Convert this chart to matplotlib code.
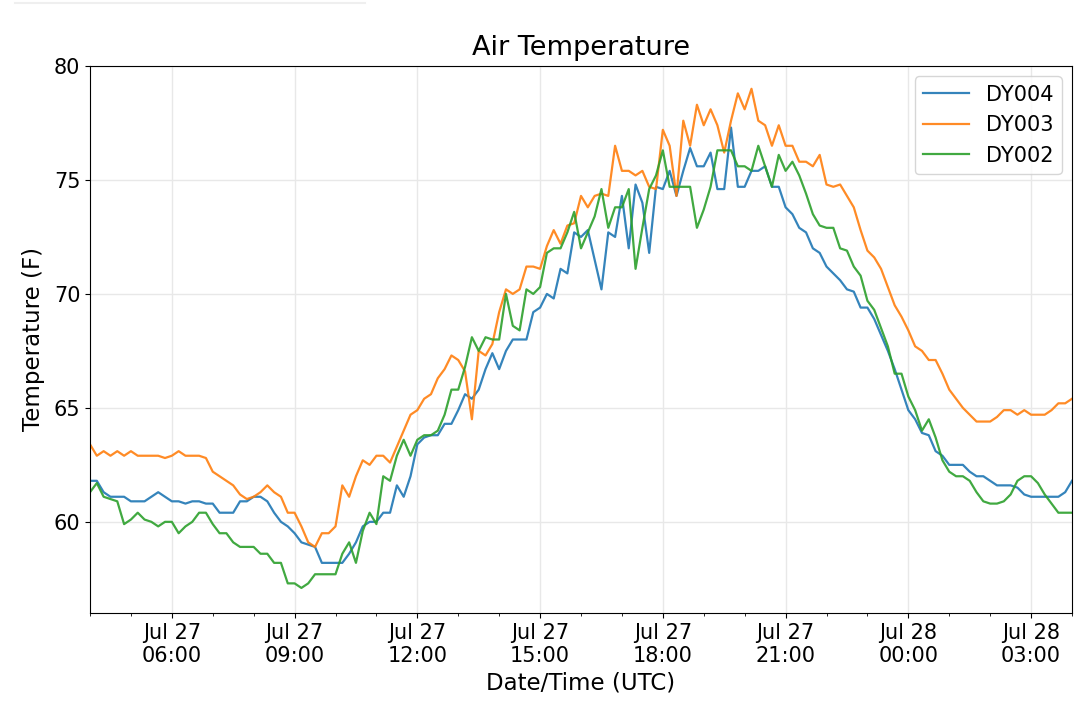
import pandas as pd
import matplotlib
matplotlib.use('Agg')
import matplotlib.pyplot as plt
import matplotlib.dates as mdates
from matplotlib.lines import Line2D

# ===== 参数 =====
FONT_TICK = 15
FONT_LABEL = 16.5
FONT_TITLE = 19.5
FONT_LEGEND = 15
LINE_W = 1.6

# 10 分钟一个点, Jul 27 04:00 -> Jul 28 04:00
times = pd.date_range('2019-07-27 04:00', periods=145, freq='10min')

dy004 = [
    61.8, 61.8, 61.3, 61.1, 61.1, 61.1, 60.9, 60.9, 60.9, 61.1, 61.3, 61.1,
    60.9, 60.9, 60.8, 60.9, 60.9, 60.8, 60.8, 60.4, 60.4, 60.4, 60.9, 60.9,
    61.1, 61.1, 60.9, 60.4, 60.0, 59.8, 59.5, 59.1, 59.0, 58.9, 58.2, 58.2,
    58.2, 58.2, 58.6, 59.1, 59.8, 60.0, 60.0, 60.4, 60.4, 61.6, 61.1, 62.0,
    63.4, 63.7, 63.8, 63.8, 64.3, 64.3, 64.9, 65.6, 65.4, 65.8, 66.7, 67.4,
    66.7, 67.5, 68.0, 68.0, 68.0, 69.2, 69.4, 70.0, 69.8, 71.1, 70.9, 72.7,
    72.5, 72.8, 71.5, 70.2, 72.7, 72.5, 74.3, 72.0, 74.8, 74.0, 71.8, 74.7,
    74.6, 75.4, 74.3, 75.4, 76.4, 75.6, 75.6, 76.2, 74.6, 74.6, 77.3, 74.7,
    74.7, 75.4, 75.4, 75.6, 74.7, 74.7, 73.8, 73.5, 72.9, 72.7, 72.0, 71.8,
    71.2, 70.9, 70.6, 70.2, 70.1, 69.4, 69.4, 68.9, 68.2, 67.5, 66.7, 65.8,
    64.9, 64.5, 63.9, 63.8, 63.1, 62.9, 62.5, 62.5, 62.5, 62.2, 62.0, 62.0,
    61.8, 61.6, 61.6, 61.6, 61.5, 61.2, 61.1, 61.1, 61.1, 61.1, 61.1, 61.3,
    61.8,
]

dy003 = [
    63.4, 62.9, 63.1, 62.9, 63.1, 62.9, 63.1, 62.9, 62.9, 62.9, 62.9, 62.8,
    62.9, 63.1, 62.9, 62.9, 62.9, 62.8, 62.2, 62.0, 61.8, 61.6, 61.2, 61.0,
    61.1, 61.3, 61.6, 61.3, 61.1, 60.4, 60.4, 59.8, 59.1, 58.9, 59.5, 59.5,
    59.8, 61.6, 61.1, 62.0, 62.7, 62.5, 62.9, 62.9, 62.6, 63.3, 64.0, 64.7,
    64.9, 65.4, 65.6, 66.3, 66.7, 67.3, 67.1, 66.6, 64.5, 67.5, 67.3, 67.8,
    69.2, 70.2, 70.0, 70.2, 71.2, 71.2, 71.1, 72.1, 72.8, 72.2, 73.0, 73.1,
    74.3, 73.8, 74.3, 74.4, 74.3, 76.5, 75.4, 75.4, 75.2, 75.4, 74.7, 74.6,
    77.2, 76.5, 74.3, 77.6, 76.5, 78.3, 77.4, 78.1, 77.4, 76.2, 77.6, 78.8,
    78.1, 79.0, 77.6, 77.4, 76.5, 77.4, 76.5, 76.5, 75.8, 75.8, 75.6, 76.1,
    74.8, 74.7, 74.8, 74.3, 73.8, 72.8, 71.9, 71.6, 71.1, 70.3, 69.5, 69.0,
    68.4, 67.7, 67.5, 67.1, 67.1, 66.5, 65.8, 65.4, 65.0, 64.7, 64.4, 64.4,
    64.4, 64.6, 64.9, 64.9, 64.7, 64.9, 64.7, 64.7, 64.7, 64.9, 65.2, 65.2,
    65.4,
]

dy002 = [
    61.3, 61.7, 61.1, 61.0, 60.9, 59.9, 60.1, 60.4, 60.1, 60.0, 59.8, 60.0,
    60.0, 59.5, 59.8, 60.0, 60.4, 60.4, 59.9, 59.5, 59.5, 59.1, 58.9, 58.9,
    58.9, 58.6, 58.6, 58.2, 58.2, 57.3, 57.3, 57.1, 57.3, 57.7, 57.7, 57.7,
    57.7, 58.6, 59.1, 58.2, 59.6, 60.4, 59.9, 62.0, 61.8, 62.9, 63.6, 62.9,
    63.6, 63.8, 63.8, 64.0, 64.7, 65.8, 65.8, 66.8, 68.1, 67.5, 68.1, 68.0,
    68.0, 70.0, 68.6, 68.4, 70.2, 70.0, 70.3, 71.8, 72.0, 72.0, 72.7, 73.6,
    72.0, 72.7, 73.4, 74.6, 72.9, 73.8, 73.8, 74.6, 71.1, 72.9, 74.6, 75.2,
    76.3, 74.7, 74.7, 74.7, 74.7, 72.9, 73.7, 74.7, 76.3, 76.3, 76.3, 75.6,
    75.6, 75.4, 76.5, 75.6, 74.7, 76.1, 75.4, 75.8, 75.2, 74.4, 73.5, 73.0,
    72.9, 72.9, 72.0, 71.9, 71.2, 70.8, 69.7, 69.3, 68.5, 67.7, 66.5, 66.5,
    65.5, 64.9, 64.0, 64.5, 63.7, 62.7, 62.2, 62.0, 62.0, 61.8, 61.3, 60.9,
    60.8, 60.8, 60.9, 61.2, 61.8, 62.0, 62.0, 61.7, 61.2, 60.8, 60.4, 60.4,
    60.4,
]

series = [('DY004', dy004), ('DY003', dy003), ('DY002', dy002)]

plt.rcParams.update({
    'font.family': ['DejaVu Sans'],
    'xtick.labelsize': FONT_TICK,
    'ytick.labelsize': FONT_TICK,
})

fig = plt.figure(figsize=(10.8, 7.14), dpi=100)
ax = fig.add_axes([90 / 1080, 1 - 613 / 714, 982 / 1080, 547 / 714])

for name, vals in series:
    ax.plot(times, vals, label=name, linewidth=LINE_W, alpha=0.9)

ax.set_xlim(times[0], times[-1])
ax.set_ylim(56.0, 80.0)
ax.set_yticks([60, 65, 70, 75, 80])

ax.xaxis.set_major_locator(mdates.HourLocator(byhour=range(0, 24, 3)))
ax.xaxis.set_minor_locator(mdates.HourLocator())
ax.xaxis.set_major_formatter(mdates.DateFormatter('%b %d\n%H:%M'))
for lab in ax.get_xticklabels():
    lab.set_horizontalalignment('center')

ax.grid(True, which='major', color='#e8e8e8', linewidth=1)
ax.set_axisbelow(True)

ax.set_title('Air Temperature', fontsize=FONT_TITLE, pad=8)
ax.set_xlabel('Date/Time (UTC)', fontsize=FONT_LABEL, labelpad=4)
ax.set_ylabel('Temperature (F)', fontsize=FONT_LABEL, labelpad=6)
ax.legend(loc='upper right', fontsize=FONT_LEGEND, handlelength=2.2)

# 截图顶部的浅色分隔线
fig.add_artist(Line2D([15 / 1080, 365 / 1080], [1 - 3 / 714, 1 - 3 / 714],
                      color='#efefef', linewidth=1.5))

fig.savefig('out.png', dpi=100, facecolor='white')
